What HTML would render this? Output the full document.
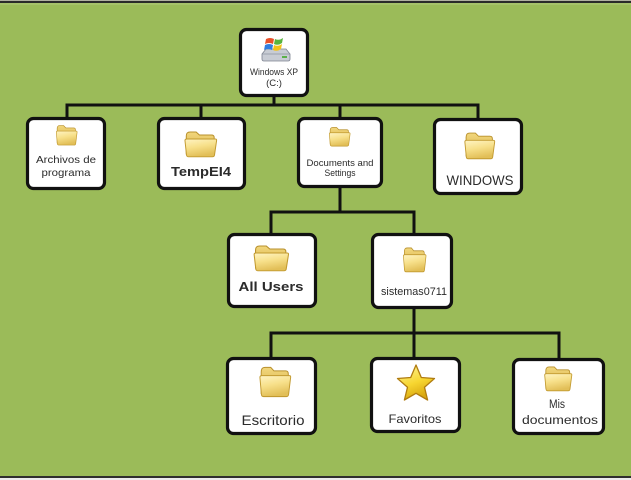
<!DOCTYPE html>
<html><head><meta charset="utf-8"><style>
html,body{margin:0;padding:0;background:#9bbb59;}
svg{display:block;}
text{font-family:"Liberation Sans","DejaVu Sans",sans-serif;fill:#2b2b2b;}
</style></head><body>
<svg width="631" height="480" viewBox="0 0 631 480" xmlns="http://www.w3.org/2000/svg">
<defs>
<linearGradient id="fg" x1="0" y1="0" x2="0.3" y2="1">
<stop offset="0" stop-color="#fff4c4"/><stop offset="0.5" stop-color="#f7e08a"/><stop offset="1" stop-color="#e2bf58"/>
</linearGradient>
<linearGradient id="bg2" x1="0" y1="0" x2="0" y2="1">
<stop offset="0" stop-color="#f2d77c"/><stop offset="1" stop-color="#d6ae46"/>
</linearGradient>
<linearGradient id="sg" x1="0" y1="0" x2="0.4" y2="1">
<stop offset="0" stop-color="#fff6a0"/><stop offset="0.6" stop-color="#f7d630"/><stop offset="1" stop-color="#d9a810"/>
</linearGradient>
<symbol id="folder" viewBox="0 0 32 28" preserveAspectRatio="none">
<path d="M3 6 Q3 2 6.5 2 H12 L15 5 H26 Q28.5 5 28.5 7.5 V24 H3 Z" fill="url(#bg2)" stroke="#b8902c" stroke-width="0.9"/>
<path d="M1.8 10.5 Q1.8 9 3.5 9 H29.5 Q31 9 30.7 10.7 L28.8 25 Q28.5 26.8 26.8 26.8 H5.2 Q3.4 26.8 3.2 25 Z" fill="url(#fg)" stroke="#c29a30" stroke-width="0.9"/>
</symbol>
</defs>
<rect x="0" y="0" width="631" height="480" fill="#9bbb59"/>
<rect x="0" y="0" width="631" height="1" fill="#b0b0a0"/>
<rect x="0" y="1" width="631" height="2" fill="#2a2a2a"/>
<rect x="0" y="3" width="631" height="2" fill="#a6c26a"/>
<rect x="0" y="476" width="631" height="2" fill="#2e2e2e"/>
<rect x="0" y="478" width="631" height="2" fill="#ececec"/>

<g stroke="#111" stroke-width="3" fill="none" stroke-linecap="square">
<line x1="274" y1="97" x2="274" y2="105"/>
<line x1="67" y1="105" x2="478" y2="105"/>
<line x1="67" y1="105" x2="67" y2="117"/>
<line x1="201" y1="105" x2="201" y2="117"/>
<line x1="340" y1="105" x2="340" y2="117"/>
<line x1="478" y1="105" x2="478" y2="118"/>
<line x1="340" y1="188" x2="340" y2="212"/>
<line x1="271" y1="212" x2="414" y2="212"/>
<line x1="271" y1="212" x2="271" y2="233"/>
<line x1="414" y1="212" x2="414" y2="233"/>
<line x1="414" y1="309" x2="414" y2="333"/>
<line x1="271" y1="333" x2="559" y2="333"/>
<line x1="271" y1="333" x2="271" y2="357"/>
<line x1="414" y1="333" x2="414" y2="357"/>
<line x1="559" y1="333" x2="559" y2="358"/>
</g>

<g fill="#fff" stroke="#111" stroke-width="3.2">
<rect x="240.5" y="29.5" width="67" height="66" rx="6"/>
<rect x="27.5" y="118.5" width="77" height="70" rx="6"/>
<rect x="158.5" y="118.5" width="86" height="70" rx="6"/>
<rect x="298.5" y="118.5" width="83" height="68" rx="6"/>
<rect x="434.5" y="119.5" width="87" height="74" rx="6"/>
<rect x="228.5" y="234.5" width="87" height="72" rx="6"/>
<rect x="372.5" y="234.5" width="79" height="73" rx="6"/>
<rect x="227.5" y="358.5" width="88" height="75" rx="6"/>
<rect x="371.5" y="358.5" width="88" height="73" rx="6"/>
<rect x="513.5" y="359.5" width="90" height="74" rx="6"/>
</g>

<!-- Root icon: drive + windows flag -->
<g>
<path d="M262 54 L266 49 H286 L290 54 V59 Q290 61 288 61 H264 Q262 61 262 59 Z" fill="#c8ccd4" stroke="#7c8290" stroke-width="0.8"/>
<path d="M262 54 H290" stroke="#8e94a2" stroke-width="0.8"/>
<rect x="282" y="56" width="5" height="2" fill="#5ab04a"/>
<path d="M266 39 Q270 37 274 39 L273 44 Q269 42 265 44 Z" fill="#e8502a"/>
<path d="M275 39 Q279 41 283 38 L282 43 Q278 46 274 44 Z" fill="#58b43c"/>
<path d="M265 45 Q269 43 273 45 L272 50 Q268 48 264 50 Z" fill="#2f7ee0"/>
<path d="M274 45 Q278 47 282 44 L281 49 Q277 52 273 50 Z" fill="#f2c21a"/>
</g>
<text x="274" y="75" font-size="9.5" text-anchor="middle" textLength="48" lengthAdjust="spacingAndGlyphs">Windows XP</text>
<text x="274" y="86" font-size="9.5" text-anchor="middle">(C:)</text>

<!-- Archivos de programa -->
<use href="#folder" x="55" y="124" width="23" height="22"/>
<text x="66" y="163" font-size="10.5" text-anchor="middle" textLength="60" lengthAdjust="spacingAndGlyphs">Archivos de</text>
<text x="66" y="176" font-size="10.5" text-anchor="middle" textLength="49" lengthAdjust="spacingAndGlyphs">programa</text>

<!-- TempEI4 -->
<use href="#folder" x="183" y="130" width="35" height="28"/>
<text x="201" y="176" font-size="12.5" font-weight="bold" text-anchor="middle" textLength="60" lengthAdjust="spacingAndGlyphs">TempEI4</text>

<!-- Documents and Settings -->
<use href="#folder" x="328" y="126" width="23" height="21"/>
<text x="340" y="166" font-size="9.5" text-anchor="middle" textLength="67" lengthAdjust="spacingAndGlyphs">Documents and</text>
<text x="340" y="176" font-size="9.5" text-anchor="middle" textLength="31" lengthAdjust="spacingAndGlyphs">Settings</text>

<!-- WINDOWS -->
<use href="#folder" x="463" y="131" width="33" height="29"/>
<text x="480" y="185" font-size="14" text-anchor="middle" textLength="67" lengthAdjust="spacingAndGlyphs">WINDOWS</text>

<!-- All Users -->
<use href="#folder" x="252" y="244" width="38" height="28"/>
<text x="271" y="291" font-size="13" font-weight="bold" text-anchor="middle" textLength="65" lengthAdjust="spacingAndGlyphs">All Users</text>

<!-- sistemas0711 -->
<use href="#folder" x="402" y="246" width="25" height="27"/>
<text x="414" y="295" font-size="11" text-anchor="middle" textLength="66" lengthAdjust="spacingAndGlyphs">sistemas0711</text>

<!-- Escritorio -->
<use href="#folder" x="258" y="365" width="34" height="33"/>
<text x="273" y="425" font-size="14" text-anchor="middle" textLength="63" lengthAdjust="spacingAndGlyphs">Escritorio</text>

<!-- Favoritos -->
<polygon points="416,365 421.3,377.5 434.5,378.5 424.5,387.3 427.6,400 416,393.3 404.4,400 407.5,387.3 397.5,378.5 410.7,377.5" fill="url(#sg)" stroke="#b07c10" stroke-width="1.3" stroke-linejoin="round"/>
<text x="415" y="423" font-size="12" text-anchor="middle" textLength="53" lengthAdjust="spacingAndGlyphs">Favoritos</text>

<!-- Mis documentos -->
<use href="#folder" x="543" y="365" width="30" height="27"/>
<text x="557" y="408" font-size="11.5" text-anchor="middle" textLength="16" lengthAdjust="spacingAndGlyphs">Mis</text>
<text x="560" y="424" font-size="11.5" text-anchor="middle" textLength="76" lengthAdjust="spacingAndGlyphs">documentos</text>
</svg>
</body></html>
